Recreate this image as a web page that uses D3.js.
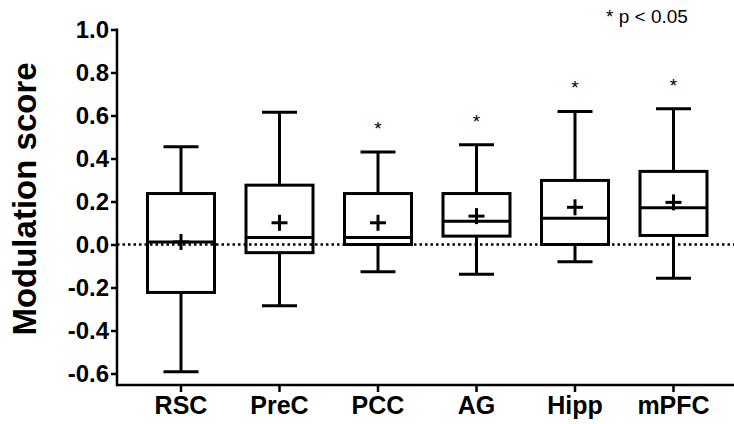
<!DOCTYPE html>
<html>
<head>
<meta charset="utf-8">
<script src="https://cdn.jsdelivr.net/npm/d3@7"></script>
<style>
  html, body { margin: 0; padding: 0; background: #fff; }
  svg { display: block; }
  text { font-family: "Liberation Sans", Arial, Helvetica, sans-serif; fill: #000; }
</style>
</head>
<body>
<svg id="chart" width="734" height="424"></svg>
<script>
// Regions and their modulation-score distributions
const regions    = ["RSC", "PreC", "PCC", "AG", "Hipp", "mPFC"];
const whiskerMax = [0.455, 0.615, 0.430, 0.464, 0.619, 0.631];
const q3         = [0.237, 0.276, 0.237, 0.237, 0.298, 0.340];
const medians    = [0.012, 0.032, 0.033, 0.108, 0.122, 0.171];
const q1         = [-0.223, -0.038, 0.000, 0.039, 0.000, 0.042];
const whiskerMin = [-0.592, -0.285, -0.127, -0.138, -0.080, -0.157];
const means      = [0.012, 0.101, 0.101, 0.132, 0.173, 0.196];
const significant = [false, false, true, true, true, true];
const yTicks = [-0.6, -0.4, -0.2, 0.0, 0.2, 0.4, 0.6, 0.8, 1.0];

const rows = regions.map((r, i) => ({
  region: r, max: whiskerMax[i], q3: q3[i], median: medians[i],
  q1: q1[i], min: whiskerMin[i], mean: means[i], sig: significant[i]
}));

const svg = d3.select("#chart");
const axisX = 117, axisBottom = 385;

const y = d3.scaleLinear().domain([-0.6, 1.0]).range([373.5, 29.5]);
const x = d3.scaleBand().domain(regions).range([131.75, 722.75]).padding(0);

const boxW = 67, capW = 35, plus = 8;

// zero reference line
svg.append("line")
  .attr("x1", axisX).attr("x2", 734)
  .attr("y1", y(0)).attr("y2", y(0))
  .attr("stroke", "#000").attr("stroke-width", 2.5)
  .attr("stroke-dasharray", "2.5,3");

// y axis
const gy = svg.append("g").attr("transform", `translate(${axisX},0)`)
  .call(d3.axisLeft(y).tickValues(yTicks).tickSize(6).tickSizeOuter(0).tickPadding(2));
gy.select(".domain").remove();
gy.selectAll(".tick line").attr("stroke", "#000").attr("stroke-width", 2.5);
gy.selectAll(".tick text").style("font-size", "24px").style("font-weight", "bold")
  .text(d => d3.format(".1f")(d).replace("−", "-"));
svg.append("line").attr("x1", axisX).attr("x2", axisX)
  .attr("y1", y(1.0) - 1).attr("y2", axisBottom + 1.25)
  .attr("stroke", "#000").attr("stroke-width", 2.5);

// x axis
const gx = svg.append("g").attr("transform", `translate(0,${axisBottom})`)
  .call(d3.axisBottom(x).tickSize(7).tickSizeOuter(0).tickPadding(4));
gx.select(".domain").remove();
gx.selectAll(".tick line").attr("stroke", "#000").attr("stroke-width", 2.5);
gx.selectAll(".tick text").style("font-size", "25px").style("font-weight", "bold");
svg.append("line").attr("x1", axisX).attr("x2", 734)
  .attr("y1", axisBottom).attr("y2", axisBottom)
  .attr("stroke", "#000").attr("stroke-width", 2.5);

// y axis title
svg.append("text")
  .attr("transform", `translate(36,199) rotate(-90)`)
  .attr("text-anchor", "middle")
  .style("font-size", "33px").style("font-weight", "bold")
  .text("Modulation score");

// box plots
const g = svg.selectAll(".box").data(rows).join("g").attr("class", "box")
  .attr("transform", d => `translate(${x(d.region) + x.bandwidth() / 2},0)`)
  .attr("stroke", "#000").attr("stroke-width", 3).attr("fill", "none");

g.append("line").attr("x1", 0).attr("x2", 0).attr("y1", d => y(d.max)).attr("y2", d => y(d.q3));
g.append("line").attr("x1", 0).attr("x2", 0).attr("y1", d => y(d.q1)).attr("y2", d => y(d.min));
g.append("line").attr("x1", -capW / 2).attr("x2", capW / 2).attr("y1", d => y(d.max)).attr("y2", d => y(d.max));
g.append("line").attr("x1", -capW / 2).attr("x2", capW / 2).attr("y1", d => y(d.min)).attr("y2", d => y(d.min));
g.append("rect").attr("x", -boxW / 2).attr("width", boxW)
  .attr("y", d => y(d.q3)).attr("height", d => y(d.q1) - y(d.q3));
g.append("line").attr("x1", -boxW / 2).attr("x2", boxW / 2).attr("y1", d => y(d.median)).attr("y2", d => y(d.median));
// mean markers
g.append("line").attr("x1", -plus).attr("x2", plus).attr("y1", d => y(d.mean)).attr("y2", d => y(d.mean));
g.append("line").attr("x1", 0).attr("x2", 0).attr("y1", d => y(d.mean) - plus).attr("y2", d => y(d.mean) + plus);

// significance stars
svg.selectAll(".star").data(rows.filter(d => d.sig)).join("text").attr("class", "star")
  .attr("x", d => x(d.region) + x.bandwidth() / 2)
  .attr("y", d => y(d.max) - 17)
  .attr("text-anchor", "middle")
  .style("font-size", "19px")
  .text("*");

// legend note
svg.append("text").attr("x", 606).attr("y", 23)
  .style("font-size", "19px").text("* p < 0.05");
</script>
</body>
</html>
